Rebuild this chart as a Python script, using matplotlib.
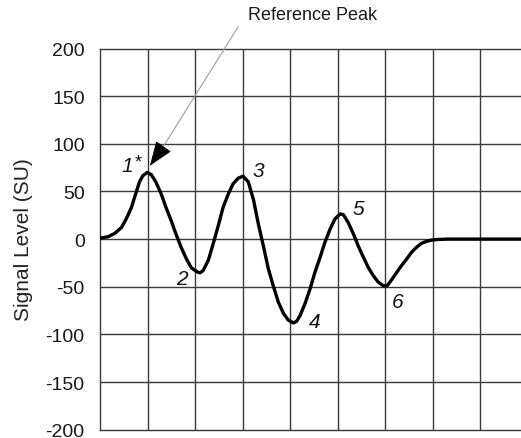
import matplotlib
matplotlib.use("Agg")
import matplotlib.pyplot as plt

plt.rcParams['font.family'] = ['Liberation Sans', 'DejaVu Sans']

# Signal trace: time in grid divisions, level in SU
time_div = [0.00, 0.17, 0.31, 0.45, 0.55, 0.66, 0.76, 0.83, 0.90, 0.995,
            1.08, 1.18, 1.29, 1.39, 1.50, 1.60, 1.71, 1.82, 1.92, 2.03,
            2.10, 2.17, 2.28, 2.38, 2.49, 2.59, 2.70, 2.80, 2.91, 3.01,
            3.12, 3.23, 3.33, 3.44, 3.54, 3.65, 3.75, 3.86, 3.96, 4.07,
            4.14, 4.21, 4.31, 4.42, 4.52, 4.63, 4.73, 4.84, 4.94, 5.05,
            5.12, 5.22, 5.33, 5.43, 5.54, 5.64, 5.75, 5.85, 5.96, 6.04,
            6.13, 6.24, 6.34, 6.45, 6.55, 6.66, 6.76, 6.87, 6.98, 7.08,
            7.30, 8.86]
signal_su = [1, 2.5, 6, 12, 21, 33, 49, 60, 66.5, 70,
             67.5, 59.5, 47, 33, 19, 5, -9, -21, -30, -34,
             -35.5, -33, -22, -5, 14.5, 33.5, 47.5, 58, 64, 66,
             60, 41, 16, -8, -31, -50, -66, -78, -85, -88,
             -86, -80, -68, -52, -35, -19, -3.5, 10.5, 21, 26.5,
             25.5, 17.5, 5.5, -7, -19, -29.5, -38.5, -45, -49, -49,
             -43, -35, -28, -21, -14, -8.5, -4.5, -2.3, -1, -0.5,
             0, 0]

# Numbered extrema labels
peak_labels = ["1", "2", "3", "4", "5", "6"]
peak_label_pos = [(0.57, 77), (1.72, -41), (3.32, 72), (4.52, -86), (5.43, 32), (6.27, -66)]

y_ticks = [200, 150, 100, 50, 0, -50, -100, -150, -200]
x_grid = [1, 2, 3, 4, 5, 6, 7, 8]

W, H = 521, 439
fig = plt.figure(figsize=(W / 100, H / 100), dpi=100)
ax = fig.add_axes([100 / W, 8.3 / H, 1 - 100 / W, (430.7 - 49.5) / H])

grid_color = "#3a3a3a"
ax.set_xlim(0, 421 / 47.54)
ax.set_ylim(-200, 200)
ax.set_yticks(y_ticks)
ax.set_yticklabels([str(v) for v in y_ticks])
ax.set_xticks([])
for v in y_ticks[1:-1]:
    ax.axhline(v, color=grid_color, lw=1.0, zorder=1)
for v in x_grid:
    ax.axvline(v, color=grid_color, lw=1.0, zorder=1)
for side in ("left", "top", "bottom"):
    ax.spines[side].set_color(grid_color)
    ax.spines[side].set_linewidth(1.0)
ax.spines["right"].set_visible(False)
ax.tick_params(axis="y", length=0, pad=11, labelsize=14, labelcolor="#1a1a1a")
# keep the lowest tick label inside the canvas
ax.get_yticklabels()[-1].set_va("baseline")
ax.get_yticklabels()[-1].set_y(-200)
for t in ax.get_yticklabels()[-1:]:
    t.set_verticalalignment("center_baseline")

ax.plot(time_div, signal_su, color="black", lw=2.4, solid_joinstyle="round",
        solid_capstyle="round", zorder=3)

for lab, (x, y) in zip(peak_labels, peak_label_pos):
    ax.text(x, y, lab, fontsize=15, style="italic", ha="center", va="center",
            color="#111111", zorder=4)
ax.text(0.80, 81, "*", fontsize=13, ha="center", va="center", color="#111111", zorder=4)

ax.set_ylabel("Signal Level (SU)", fontsize=15, color="#222222", labelpad=9)

# Reference peak callout: thin leader line with a solid arrowhead
ax.annotate("", xy=(1.31, 95.4), xycoords="data",
            xytext=(238, H - 28), textcoords="figure pixels",
            arrowprops=dict(arrowstyle="-", color="#a0a0a0", lw=0.8,
                            shrinkA=0, shrinkB=0), annotation_clip=False)
ax.annotate("", xy=(1.05, 77), xycoords="data",
            xytext=(1.31, 95.4), textcoords="data",
            arrowprops=dict(arrowstyle="-|>,head_length=0.8,head_width=0.3",
                            color="black", lw=0.5, shrinkA=0, shrinkB=0,
                            mutation_scale=20), annotation_clip=False)
fig.text(248 / W, 1 - 15 / H, "Reference Peak", fontsize=13, ha="left", va="center",
         color="#1a1a1a")

fig.savefig("out.png", dpi=100)
